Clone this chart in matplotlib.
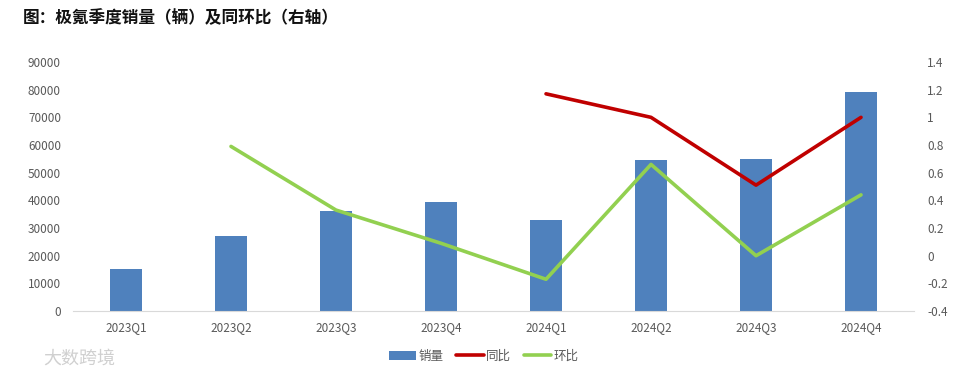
import matplotlib
matplotlib.use('Agg')
import matplotlib.pyplot as plt
import numpy as np

plt.rcParams['font.family'] = ['Noto Sans CJK SC', 'DejaVu Sans']

# data
quarters = ['2023Q1', '2023Q2', '2023Q3', '2023Q4', '2024Q1', '2024Q2', '2024Q3', '2024Q4']
sales = [15200, 27100, 36200, 39400, 32900, 54600, 54900, 79200]
yoy = [None, None, None, None, 1.17, 1.0, 0.51, 1.0]
qoq = [None, 0.79, 0.33, 0.09, -0.17, 0.66, 0.0, 0.44]

fig = plt.figure(figsize=(9.67, 3.78), dpi=100)
ax = fig.add_axes([0.076, 0.177, 0.8687, 0.659])
ax2 = ax.twinx()

x = np.arange(len(quarters))
bars = ax.bar(x, sales, width=0.31, color='#4f81bd', label='销量', zorder=2)

yoy_x = [i for i, v in enumerate(yoy) if v is not None]
yoy_y = [v for v in yoy if v is not None]
qoq_x = [i for i, v in enumerate(qoq) if v is not None]
qoq_y = [v for v in qoq if v is not None]
l1, = ax2.plot(yoy_x, yoy_y, color='#c00000', lw=2.6, label='同比', solid_capstyle='round')
l2, = ax2.plot(qoq_x, qoq_y, color='#92d050', lw=2.6, label='环比', solid_capstyle='round')

ax.set_xlim(-0.5, 7.5)
ax.set_ylim(0, 90000)
ax.set_yticks(range(0, 90001, 10000))
ax2.set_ylim(-0.4, 1.4)
ax2.set_yticks([-0.4, -0.2, 0, 0.2, 0.4, 0.6, 0.8, 1.0, 1.2, 1.4])
ax2.set_yticklabels(['-0.4', '-0.2', '0', '0.2', '0.4', '0.6', '0.8', '1', '1.2', '1.4'])
ax.set_xticks(x)
ax.set_xticklabels(quarters)

for a in (ax, ax2):
    for s in ['top', 'left', 'right', 'bottom']:
        a.spines[s].set_visible(False)
    a.tick_params(length=0, labelsize=8.5, colors='#595959')
ax.spines['bottom'].set_visible(True)
ax.spines['bottom'].set_color('#d9d9d9')
ax.tick_params(axis='y', pad=9)
ax.tick_params(axis='x', pad=7)
ax2.tick_params(axis='y', pad=10)

fig.text(0.024, 0.952, '图：极氪季度销量（辆）及同环比（右轴）', fontsize=12,
         fontweight='bold', color='#111111', va='center')

fig.legend([bars, l1, l2], ['销量', '同比', '环比'], loc='center', bbox_to_anchor=(0.5, 0.058),
           ncol=3, frameon=False, fontsize=9, handlelength=2.2, handletextpad=0.2,
           columnspacing=1.0, labelcolor='#595959')

fig.text(0.045, 0.05, '大数跨境', fontsize=13, color='#d0d0d0', va='center')

plt.savefig('out.png', dpi=100)
